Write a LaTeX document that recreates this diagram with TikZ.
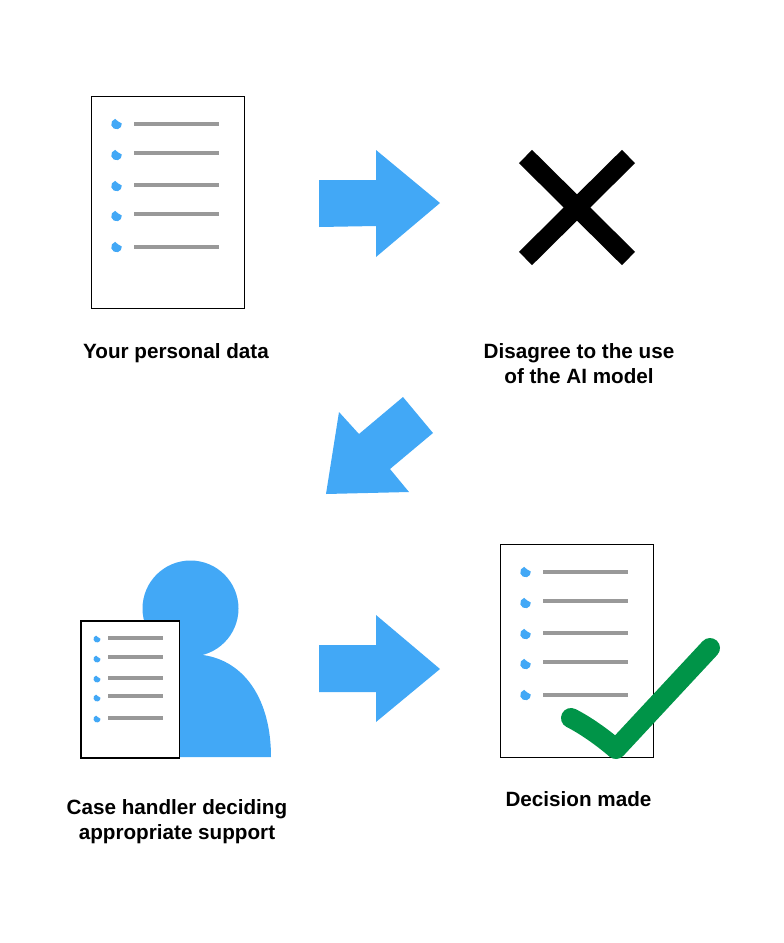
\documentclass[tikz,border=0pt]{standalone}
\usepackage{fontspec}
\setmainfont{Liberation Sans}
\definecolor{arrowBlue}{RGB}{66, 168, 246}
\definecolor{lineGray}{RGB}{153, 153, 153}
\definecolor{tickGreen}{RGB}{0, 148, 72}
\tikzset{
  caption/.style={font=\bfseries\fontsize{15.5}{18.75}\selectfont, align=center, text=black},
  blockarrow/.style={fill=arrowBlue},
  sheet/.style={draw=black, fill=white, line width=0.8pt},
  listline/.style={lineGray, line width=2.8pt},
  bullet/.pic={\fill[arrowBlue] (105:5.3) arc (105:365:5.3) .. controls (2.5,2.2) and (0,3.2) .. cycle;},
}
\begin{document}
\begin{tikzpicture}[x=0.75pt, y=-0.75pt]
        \useasboundingbox (0,0) rectangle (784,943);

        % your personal data
        \draw[sheet] (91.5,96.5) rectangle (244.5,308.5);
        \foreach \by/\ly in {124/124, 155/153, 186/185, 216/214, 247/247} {
          \pic[yscale=-1] at (116.5,\by) {bullet};
          \draw[listline] (134,\ly) -- (219,\ly);
        }
        \node[caption] (datatext) at (176,353) {Your personal data};

        % arrows
        \fill[blockarrow] (319,180) -- (376,180) -- (376,150) -- (440,203) -- (376,257) -- (376,226) -- (319,227) -- cycle;
        \fill[blockarrow] (403,397) -- (433,433) -- (390,469) -- (409,492) -- (326,494) -- (339,412) -- (359,434) -- cycle;
        \fill[blockarrow] (319,645) -- (376,645) -- (376,615) -- (440,669) -- (376,722) -- (376,692) -- (319,692) -- cycle;

        % disagree cross
        \draw[black, line width=14pt] (525.5,156.5) -- (628.5,258.5);
        \draw[black, line width=14pt] (628.5,156.5) -- (525.5,258.5);
        \node[caption] (disagreetext) at (579,363.5) {Disagree to the use\\of the AI model};

        % case handler
        \fill[arrowBlue] (190.5,608.5) circle (48);
        \fill[arrowBlue] (203,655) .. controls (245,661) and (271,700) .. (271,757) -- (150,757) -- (150,650) -- cycle;
        \draw[sheet] (81,621) rectangle (179.5,758);
        \foreach \by/\ly in {639/638, 659/657, 679/678, 698/696, 719/718} {
          \pic[yscale=-0.66, xscale=0.66] at (97,\by) {bullet};
          \draw[listline] (108,\ly) -- (163,\ly);
        }
        \node[caption] (handlertext) at (177,821.5) {Case handler deciding\\appropriate support};

        % decision made
        \draw[sheet] (500.5,544.5) rectangle (653.5,757.5);
        \foreach \by/\ly in {572/572, 603/601, 634/633, 664/662, 695/695} {
          \pic[yscale=-1] at (525.5,\by) {bullet};
          \draw[listline] (543,\ly) -- (628,\ly);
        }
        \draw[tickGreen, line width=15pt, line cap=round, line join=round] (571,718) .. controls (585,725) and (602,737) .. (616,749) -- (710,648);
        \node[caption] (decisiontext) at (578.5,799) {Decision made};
      \end{tikzpicture}
\end{document}
